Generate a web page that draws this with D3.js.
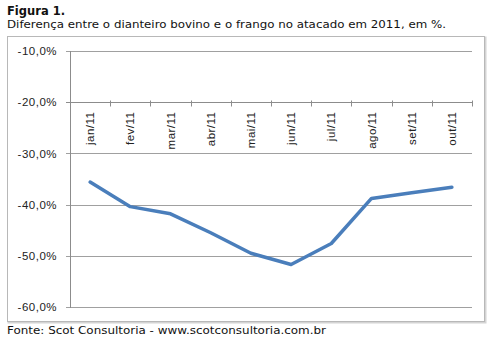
<!DOCTYPE html>
<html>
<head>
<meta charset="utf-8">
<script src="https://cdn.jsdelivr.net/npm/d3@7"></script>
<style>
  body { margin: 0; background: #fff; }
  svg { display: block; }
</style>
</head>
<body>
<script>
// months on the x axis
var months = ["jan/11", "fev/11", "mar/11", "abr/11", "mai/11", "jun/11", "jul/11", "ago/11", "set/11", "out/11"];
// difference in %
var diff = [-35.6, -40.4, -41.8, -45.5, -49.5, -51.7, -47.6, -38.8, -37.7, -36.6];
// y ticks
var yTicks = [-10, -20, -30, -40, -50, -60];

var W = 494, H = 340;
var svg = d3.select("body").append("svg")
    .attr("width", W)
    .attr("height", H);

svg.append("rect").attr("width", W).attr("height", H).attr("fill", "#fff");

// titles
svg.append("text")
    .attr("x", 7).attr("y", 15)
    .style("font-family", "'DejaVu Sans', Verdana, sans-serif")
    .style("font-size", "11.5px")
    .style("font-weight", "bold")
    .attr("fill", "#111")
    .text("Figura 1.");

svg.append("text")
    .attr("x", 7).attr("y", 28)
    .style("font-family", "'DejaVu Sans', Verdana, sans-serif")
    .style("font-size", "11px")
    .attr("fill", "#111")
    .attr("textLength", 439)
    .attr("lengthAdjust", "spacingAndGlyphs")
    .text("Diferença  entre  o dianteiro  bovino  e o frango no atacado em 2011, em %.");

svg.append("text")
    .attr("x", 7).attr("y", 334)
    .style("font-family", "'DejaVu Sans', Verdana, sans-serif")
    .style("font-size", "11px")
    .attr("fill", "#111")
    .attr("textLength", 319)
    .attr("lengthAdjust", "spacingAndGlyphs")
    .text("Fonte:  Scot  Consultoria  - www.scotconsultoria.com.br");

// chart frame with a little shadow
svg.append("rect")
    .attr("x", 8.5).attr("y", 37.5).attr("width", 477).attr("height", 285)
    .attr("fill", "none").attr("stroke", "#d4d4d4").attr("stroke-width", 2);
svg.append("rect")
    .attr("x", 7.5).attr("y", 36.5).attr("width", 477).attr("height", 285)
    .attr("fill", "#fff").attr("stroke", "#b8b8b8");

var margin = { left: 70, top: 51 };

var g = svg.append("g")
    .attr("transform", "translate(" + margin.left + "," + margin.top + ")");

var x = d3.scaleBand().domain(months).range([0, 402]).padding(0);
var y = d3.scaleLinear().domain([-60, -10]).range([256, 0]);

// gridlines
g.selectAll(".grid")
    .data(yTicks)
  .enter().append("line")
    .attr("class", "grid")
    .attr("x1", -4).attr("x2", 402)
    .attr("y1", function(d) { return Math.round(y(d)) + 0.5; })
    .attr("y2", function(d) { return Math.round(y(d)) + 0.5; })
    .attr("stroke", function(d) { return d === -20 ? "#8c8c8c" : "#a0a0a0"; })
    .attr("stroke-width", 1);

// y labels, Excel style "-10,0%"
var yAxis = d3.axisLeft(y).tickValues(yTicks).tickSize(0).tickPadding(13)
    .tickFormat(function(d) { return "-" + Math.abs(d).toFixed(1).replace(".", ",") + "%"; });
var ya = g.append("g").call(yAxis);
ya.select(".domain").remove();
ya.selectAll("text")
    .style("font-family", "'Liberation Sans', Arial, sans-serif")
    .style("font-size", "11.5px")
    .style("letter-spacing", "0.5px")
    .attr("fill", "#222");

// y axis line
g.append("line")
    .attr("x1", 0.5).attr("x2", 0.5)
    .attr("y1", 0).attr("y2", 257)
    .attr("stroke", "#8c8c8c");

// x axis sits at -20%
var xa = g.append("g").attr("transform", "translate(0," + (Math.round(y(-20)) + 0.5) + ")");
xa.selectAll(".tk")
    .data(d3.range(months.length + 1))
  .enter().append("line")
    .attr("x1", function(i) { return Math.round(i * x.bandwidth()) + 0.5; })
    .attr("x2", function(i) { return Math.round(i * x.bandwidth()) + 0.5; })
    .attr("y1", -2).attr("y2", 4)
    .attr("stroke", "#8c8c8c");

xa.selectAll(".lbl")
    .data(months)
  .enter().append("text")
    .attr("transform", function(d) { return "translate(" + (x(d) + x.bandwidth() / 2 + 4) + ",9)rotate(-90)"; })
    .attr("text-anchor", "end")
    .style("font-family", "'Liberation Sans', Arial, sans-serif")
    .style("font-size", "11.5px")
    .style("letter-spacing", "0.5px")
    .attr("fill", "#222")
    .text(function(d) { return d; });

// the line
var line = d3.line()
    .x(function(d, i) { return x(months[i]) + x.bandwidth() / 2; })
    .y(function(d) { return y(d); });

g.append("path")
    .datum(diff)
    .attr("d", line)
    .attr("fill", "none")
    .attr("stroke", "#4a7ebb")
    .attr("stroke-width", 3.5)
    .attr("stroke-linejoin", "round")
    .attr("stroke-linecap", "round");
</script>
</body>
</html>
